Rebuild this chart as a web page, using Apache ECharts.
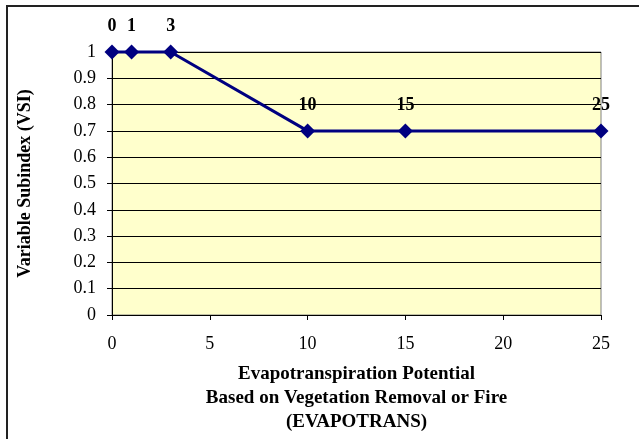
<!DOCTYPE html>
<html>
<head>
<meta charset="utf-8">
<script src="https://cdn.jsdelivr.net/npm/echarts@6/dist/echarts.min.js"></script>
<style>
  html, body { margin: 0; padding: 0; background: #ffffff; }
  #frame { position: absolute; left: 6px; top: 5px; right: 0; bottom: 0;
           border-left: 2px solid #222; border-top: 2px solid #222; }
  #chart { position: absolute; left: 0; top: 0; width: 639px; height: 439px; }
</style>
</head>
<body>
<div id="frame"></div>
<div id="chart"></div>
<script>
// EVAPOTRANS values and their variable subindex
const evapotrans = [0, 1, 3, 10, 15, 25];
const vsi = [1, 1, 1, 0.7, 0.7, 0.7];
const xTicks = [0, 5, 10, 15, 20, 25];
const yTicks = [0, 0.1, 0.2, 0.3, 0.4, 0.5, 0.6, 0.7, 0.8, 0.9, 1];

const serif = '"Liberation Serif", "Times New Roman", serif';
const chart = echarts.init(document.getElementById('chart'), null, { renderer: 'canvas' });

chart.setOption({
  backgroundColor: 'transparent',
  animation: false,
  grid: {
    left: 112, right: 38, top: 52, bottom: 122,
    show: true, backgroundColor: '#FFFFCC', borderColor: '#808080', borderWidth: 1
  },
  xAxis: {
    type: 'value', min: xTicks[0], max: xTicks[xTicks.length - 1], interval: 5,
    name: 'Evapotranspiration Potential\nBased on Vegetation Removal or Fire\n(EVAPOTRANS)',
    nameLocation: 'middle', nameGap: 47,
    nameTextStyle: { fontFamily: serif, fontWeight: 'bold', fontSize: 19, lineHeight: 24, color: '#000' },
    axisLine: { show: true, onZero: false, lineStyle: { color: '#000', width: 1 } },
    axisTick: { show: true, inside: false, length: 5, lineStyle: { color: '#000' } },
    axisLabel: { fontFamily: serif, fontSize: 18, color: '#000', margin: 20 },
    splitLine: { show: false }
  },
  yAxis: {
    type: 'value', min: yTicks[0], max: yTicks[yTicks.length - 1], interval: 0.1,
    name: 'Variable Subindex (VSI)',
    nameLocation: 'middle', nameGap: 78, nameRotate: 90,
    nameTextStyle: { fontFamily: serif, fontWeight: 'bold', fontSize: 18, color: '#000' },
    axisLine: { show: true, lineStyle: { color: '#000', width: 1 } },
    axisTick: { show: true, inside: false, length: 5, lineStyle: { color: '#000' } },
    axisLabel: {
      fontFamily: serif, fontSize: 18, color: '#000', margin: 16,
      formatter: v => String(Math.round(v * 10) / 10)
    },
    splitLine: { show: true, lineStyle: { color: '#000', width: 1 } }
  },
  series: [{
    type: 'line',
    data: evapotrans.map((x, i) => [x, vsi[i]]),
    symbol: 'diamond', symbolSize: 15,
    lineStyle: { color: '#000080', width: 3 },
    itemStyle: { color: '#000080' },
    label: {
      show: true, position: 'top', distance: 9,
      formatter: p => String(p.value[0]),
      fontFamily: serif, fontWeight: 'bold', fontSize: 18, color: '#000'
    },
    clip: false,
    z: 5
  }]
});
</script>
</body>
</html>
